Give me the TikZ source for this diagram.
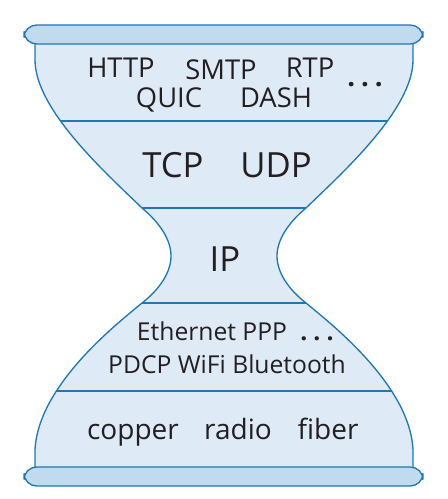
\documentclass[tikz,border=0pt]{standalone}
\usepackage{fontspec}
\setmainfont{Open Sans}
\definecolor{glassline}{RGB}{30,120,180}
\definecolor{glassfill}{RGB}{222,234,246}
\definecolor{capfill}{RGB}{194,218,238}
\definecolor{inktext}{RGB}{35,31,32}
\newcommand{\hourglassoutline}{(35,40) -- (35,60) .. controls (35,110) and (108,175) .. (142,208) .. controls (160,223) and (171,240) .. (171,256) .. controls (171,272) and (160,289) .. (142,303) .. controls (118,323) and (38,385) .. (35,450) -- (35,470) -- (413,470) -- (413,450) .. controls (410,385) and (330,323) .. (306,303) .. controls (288,289) and (277,272) .. (277,256) .. controls (277,240) and (288,223) .. (306,208) .. controls (340,175) and (413,110) .. (413,60) -- (413,40) -- cycle}
\newcommand{\layerdots}{\textbf{.\kern4.5pt.\kern4.5pt.}}
\tikzset{
  layertext/.style={anchor=base, text=inktext, inner sep=0pt},
  apptext/.style={layertext, font=\fontsize{20.5}{23}\selectfont},
  transtext/.style={layertext, font=\fontsize{26}{29}\selectfont},
  linktext/.style={layertext, font=\fontsize{18.5}{21}\selectfont},
  phystext/.style={layertext, font=\fontsize{21}{23}\selectfont},
  capbar/.style={draw=glassline, fill=capfill, line width=1pt, rounded corners=9.5},
  divider/.style={draw=glassline, line width=1pt}
}
\begin{document}
\begin{tikzpicture}[x=0.75pt,y=0.75pt,yscale=-1,xscale=1]
\useasboundingbox (0,0) rectangle (448,499);

%Shape: Hourglass body
\path [fill=glassfill] \hourglassoutline ;
%Straight Lines: layer dividers
\begin{scope}
\clip \hourglassoutline ;
\draw [divider] (0,121) -- (448,121) ;
\draw [divider] (0,208) -- (448,208) ;
\draw [divider] (0,303) -- (448,303) ;
\draw [divider] (0,391) -- (448,391) ;
\end{scope}
%Curve Lines: left side
\draw [divider] (35,40) -- (35,60) .. controls (35,110) and (108,175) .. (142,208) .. controls (160,223) and (171,240) .. (171,256) .. controls (171,272) and (160,289) .. (142,303) .. controls (118,323) and (38,385) .. (35,450) -- (35,470) ;
%Curve Lines: right side
\draw [divider] (413,40) -- (413,60) .. controls (413,110) and (340,175) .. (306,208) .. controls (288,223) and (277,240) .. (277,256) .. controls (277,272) and (288,289) .. (306,303) .. controls (330,323) and (410,385) .. (413,450) -- (413,470) ;

%Shape: Rectangle top cap
\draw [capbar] (24,25) rectangle (423,44) ;
%Shape: Rectangle bottom cap
\draw [capbar] (24,467) rectangle (423,486) ;

%Text nodes: application layer
\node [apptext] (http) at (121,78) {HTTP};
\node [apptext] (smtp) at (221,79.5) {SMTP};
\node [apptext] (rtp) at (310,78) {RTP};
\node [apptext] (appdots) at (365,87) {\layerdots};
\node [apptext] (quic) at (169,108) {QUIC};
\node [apptext] (dash) at (276,108) {DASH};
%Text nodes: transport layer
\node [transtext] (tcp) at (173,177) {TCP};
\node [transtext] (udp) at (276,177) {UDP};
%Text nodes: network layer
\node [transtext] (ip) at (225,271) {IP};
%Text nodes: link layer
\node [linktext] (ethernet) at (212,340) {Ethernet PPP};
\node [linktext] (linkdots) at (317,340) {\layerdots};
\node [linktext] (pdcp) at (227,373) {PDCP WiFi Bluetooth};
%Text nodes: physical layer
\node [phystext] (copper) at (133,439) {copper};
\node [phystext] (radio) at (238,439) {radio};
\node [phystext] (fiber) at (328,439) {fiber};

\end{tikzpicture}
\end{document}
